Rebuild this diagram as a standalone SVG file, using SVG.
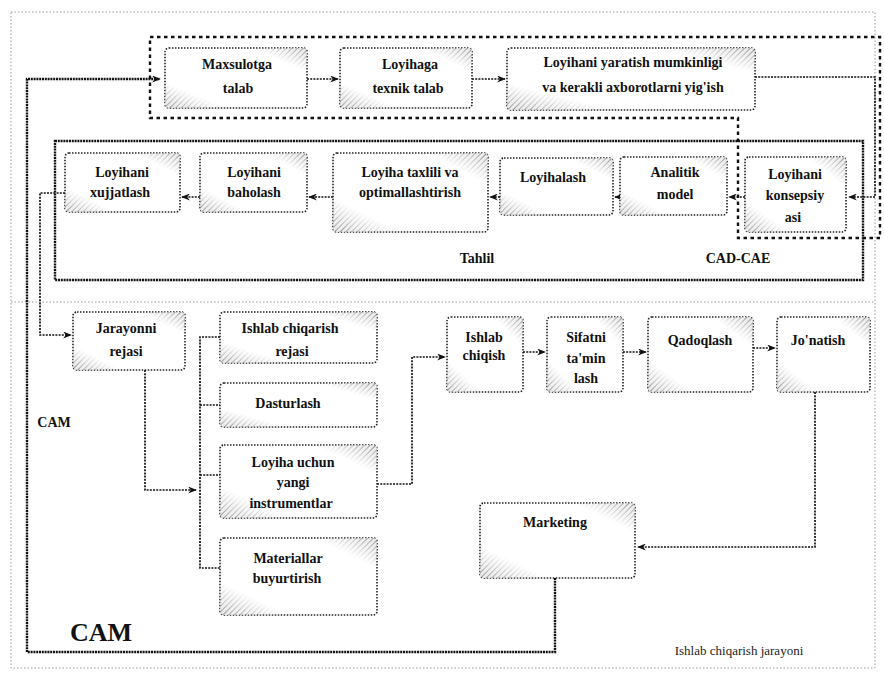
<svg xmlns="http://www.w3.org/2000/svg" width="884" height="677" viewBox="0 0 884 677">
<style>
.bx{fill:#fff;stroke:#222;stroke-width:1.6;stroke-dasharray:1.5 1.5}
.sh{fill:url(#hatch);mask:url(#cm);stroke:none}
.t{font-family:"Liberation Serif","Times New Roman",serif;font-weight:bold;font-size:14px;fill:#111;text-anchor:middle}
.c{fill:none;stroke:#111;stroke-width:1.7;stroke-dasharray:2 1.2}
.cs{fill:none;stroke:#111;stroke-width:2.4;stroke-dasharray:2 0.8}
.frame{fill:none;stroke:#999;stroke-width:1;stroke-dasharray:1.5 2}
</style>
<defs>
<pattern id="hatch" width="4" height="4" patternUnits="userSpaceOnUse" patternTransform="rotate(45)">
<rect width="4" height="4" fill="#e8e8e8"/>
<line x1="0" y1="0" x2="0" y2="4" stroke="#777" stroke-width="1.6"/>
</pattern>
<linearGradient id="gm" x1="0" y1="1" x2="1" y2="0">
<stop offset="0" stop-color="#fff"/>
<stop offset="0.22" stop-color="#000"/>
<stop offset="0.8" stop-color="#000"/>
<stop offset="1" stop-color="#fff"/>
</linearGradient>
<mask id="cm" maskContentUnits="objectBoundingBox">
<rect x="0" y="0" width="1" height="1" fill="url(#gm)"/>
</mask>
<marker id="ar" viewBox="0 0 10 8" refX="9" refY="4" markerWidth="9" markerHeight="7" orient="auto" markerUnits="userSpaceOnUse">
<path d="M0,0 L10,4 L0,8 L3,4 z" fill="#111"/>
</marker>
</defs>
<rect width="884" height="677" fill="#fff"/>

<!-- frames -->
<g id="frames">
<rect class="frame" x="11" y="12" width="864" height="656"/>
<line class="frame" x1="11" y1="302" x2="875" y2="302"/>
<path d="M150,37 H880 V238 H738 V118 H150 Z" fill="none" stroke="#111" stroke-width="2.4" stroke-dasharray="3.5 3.5"/>
<rect x="55" y="141" width="808" height="139" fill="none" stroke="#111" stroke-width="2.4" stroke-dasharray="2 0.8"/>
</g>

<!-- connectors -->
<g id="connectors">
<path class="cs" d="M555,578 V652 H27 V79 H160" marker-end="url(#ar)"/>
<path class="c" d="M307,79 H338" marker-end="url(#ar)"/>
<path class="c" d="M472,79 H505" marker-end="url(#ar)"/>
<path class="c" d="M755,77 H875 V197 H849" marker-end="url(#ar)"/>
<path class="c" d="M745,197 H729" marker-end="url(#ar)"/>
<path class="c" d="M620,197 H615" marker-end="url(#ar)"/>
<path class="c" d="M500,197 H490" marker-end="url(#ar)"/>
<path class="c" d="M333,197 H309" marker-end="url(#ar)"/>
<path class="c" d="M200,197 H182" marker-end="url(#ar)"/>
<path class="c" d="M65,193 H40 V335 H71" marker-end="url(#ar)"/>
<path class="c" d="M145,370 V490 H196" marker-end="url(#ar)"/>
<path class="c" d="M220,337 H200 V568 H220"/>
<path class="c" d="M200,405 H220"/>
<path class="c" d="M200,475 H220"/>
<path class="c" d="M377,484 H412 V357 H445" marker-end="url(#ar)"/>
<path class="c" d="M523,352 H545" marker-end="url(#ar)"/>
<path class="c" d="M623,352 H646" marker-end="url(#ar)"/>
<path class="c" d="M753,348 H775" marker-end="url(#ar)"/>
<path class="c" d="M815,392 V547 H638" marker-end="url(#ar)"/>
</g>

<!-- nodes -->
<g id="n1"><rect class="bx" x="165" y="48" width="142" height="60" rx="4"/><rect class="sh" x="165" y="48" width="142" height="60" rx="4"/>
<text class="t" x="237" y="69">Maxsulotga</text><text class="t" x="238" y="93">talab</text></g>
<g id="n2"><rect class="bx" x="340" y="48" width="132" height="60" rx="4"/><rect class="sh" x="340" y="48" width="132" height="60" rx="4"/>
<text class="t" x="410" y="69">Loyihaga</text><text class="t" x="408" y="93">texnik talab</text></g>
<g id="n3"><rect class="bx" x="507" y="48" width="248" height="62" rx="4"/><rect class="sh" x="507" y="48" width="248" height="62" rx="4"/>
<text class="t" x="633" y="67">Loyihani yaratish mumkinligi</text><text class="t" x="633" y="92">va kerakli axborotlarni yig'ish</text></g>

<g id="n4"><rect class="bx" x="65" y="153" width="115" height="59" rx="4"/><rect class="sh" x="65" y="153" width="115" height="59" rx="4"/>
<text class="t" x="122" y="177">Loyihani</text><text class="t" x="120" y="197">xujjatlash</text></g>
<g id="n5"><rect class="bx" x="200" y="153" width="107" height="59" rx="4"/><rect class="sh" x="200" y="153" width="107" height="59" rx="4"/>
<text class="t" x="254" y="177">Loyihani</text><text class="t" x="254" y="197">baholash</text></g>
<g id="n6"><rect class="bx" x="333" y="153" width="155" height="79" rx="4"/><rect class="sh" x="333" y="153" width="155" height="79" rx="4"/>
<text class="t" x="410" y="177">Loyiha taxlili va</text><text class="t" x="410" y="197">optimallashtirish</text></g>
<g id="n7"><rect class="bx" x="500" y="158" width="113" height="57" rx="4"/><rect class="sh" x="500" y="158" width="113" height="57" rx="4"/>
<text class="t" x="553" y="182">Loyihalash</text></g>
<g id="n8"><rect class="bx" x="620" y="157" width="107" height="58" rx="4"/><rect class="sh" x="620" y="157" width="107" height="58" rx="4"/>
<text class="t" x="675" y="177">Analitik</text><text class="t" x="675" y="199">model</text></g>
<g id="n9"><rect class="bx" x="745" y="157" width="101" height="75" rx="4"/><rect class="sh" x="745" y="157" width="101" height="75" rx="4"/>
<text class="t" x="795" y="179">Loyihani</text><text class="t" x="795" y="200">konsepsiy</text><text class="t" x="793" y="222">asi</text></g>

<g id="n10"><rect class="bx" x="73" y="312" width="112" height="58" rx="4"/><rect class="sh" x="73" y="312" width="112" height="58" rx="4"/>
<text class="t" x="126" y="333">Jarayonni</text><text class="t" x="126" y="356">rejasi</text></g>
<g id="n11"><rect class="bx" x="220" y="312" width="157" height="51" rx="4"/><rect class="sh" x="220" y="312" width="157" height="51" rx="4"/>
<text class="t" x="290" y="333">Ishlab chiqarish</text><text class="t" x="292" y="356">rejasi</text></g>
<g id="n12"><rect class="bx" x="220" y="383" width="157" height="44" rx="4"/><rect class="sh" x="220" y="383" width="157" height="44" rx="4"/>
<text class="t" x="288" y="408">Dasturlash</text></g>
<g id="n13"><rect class="bx" x="220" y="445" width="157" height="73" rx="4"/><rect class="sh" x="220" y="445" width="157" height="73" rx="4"/>
<text class="t" x="293" y="467">Loyiha uchun</text><text class="t" x="293" y="487">yangi</text><text class="t" x="291" y="508">instrumentlar</text></g>
<g id="n14"><rect class="bx" x="220" y="538" width="157" height="77" rx="4"/><rect class="sh" x="220" y="538" width="157" height="77" rx="4"/>
<text class="t" x="288" y="563">Materiallar</text><text class="t" x="287" y="583">buyurtirish</text></g>

<g id="n15"><rect class="bx" x="447" y="317" width="76" height="75" rx="4"/><rect class="sh" x="447" y="317" width="76" height="75" rx="4"/>
<text class="t" x="484" y="342">Ishlab</text><text class="t" x="484" y="360">chiqish</text></g>
<g id="n16"><rect class="bx" x="547" y="317" width="76" height="75" rx="4"/><rect class="sh" x="547" y="317" width="76" height="75" rx="4"/>
<text class="t" x="586" y="342">Sifatni</text><text class="t" x="586" y="363">ta'min</text><text class="t" x="586" y="383">lash</text></g>
<g id="n17"><rect class="bx" x="648" y="317" width="105" height="75" rx="4"/><rect class="sh" x="648" y="317" width="105" height="75" rx="4"/>
<text class="t" x="700" y="345">Qadoqlash</text></g>
<g id="n18"><rect class="bx" x="777" y="317" width="93" height="75" rx="4"/><rect class="sh" x="777" y="317" width="93" height="75" rx="4"/>
<text class="t" x="818" y="345">Jo'natish</text></g>
<g id="n19"><rect class="bx" x="480" y="503" width="155" height="75" rx="4"/><rect class="sh" x="480" y="503" width="155" height="75" rx="4"/>
<text class="t" x="555" y="527">Marketing</text></g>

<!-- labels -->
<g id="labels">
<text class="t" x="477" y="263">Tahlil</text>
<text class="t" x="738" y="263">CAD-CAE</text>
<text class="t" x="54" y="427">CAM</text>
<text class="t" x="101" y="641" style="font-size:26px">CAM</text>
<text x="739" y="655" style="font-family:'Liberation Serif',serif;font-size:13px;fill:#222;text-anchor:middle">Ishlab chiqarish jarayoni</text>
</g>
</svg>
